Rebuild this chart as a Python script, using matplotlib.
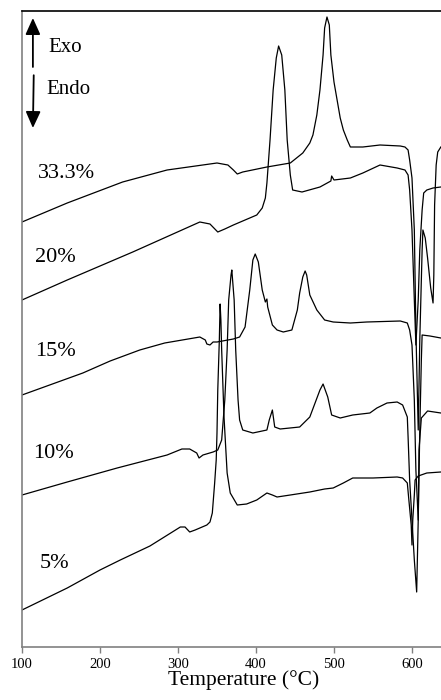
import matplotlib.pyplot as plt

plt.rcParams["font.family"] = ["Liberation Serif", "DejaVu Serif"]

# DSC traces, temperature (°C) vs heat flow (a.u., offset per curve)

t_333 = [100, 158, 229, 286, 350, 364, 371, 376, 383, 414, 444, 460, 469, 473,
         478, 482, 486, 488, 491, 494, 496, 500, 504, 508, 512, 517, 521, 537,
         559, 585, 591, 595, 597, 600, 603, 605, 608, 610, 613, 614, 617, 620,
         624, 627, 628, 629, 631, 633, 637]
h_333 = [425, 444, 465, 477, 484, 482, 477, 473, 475, 480, 484, 494, 504, 512,
         532, 557, 592, 619, 630, 622, 592, 565, 547, 529, 517, 507, 500, 500,
         502, 501, 500, 497, 487, 469, 417, 317, 217, 307, 397, 417, 409, 389,
         359, 344, 372, 442, 482, 495, 500]

t_20 = [100, 158, 242, 328, 341, 351, 360, 371, 401, 408, 412, 414, 418, 422,
        426, 429, 433, 437, 440, 444, 447, 459, 482, 496, 497, 500, 521, 537,
        559, 581, 591, 595, 597, 600, 603, 605, 608, 610, 613, 615, 619, 627,
        637]
h_20 = [347, 367, 395, 425, 423, 415, 418, 422, 432, 439, 449, 464, 507, 557,
        589, 601, 592, 557, 507, 472, 457, 455, 460, 466, 471, 467, 469, 474,
        482, 479, 477, 472, 457, 417, 347, 302, 347, 397, 437, 454, 457, 459,
        460]

t_15 = [100, 178, 213, 251, 283, 328, 335, 337, 341, 345, 350, 371, 379, 386,
        392, 396, 399, 403, 408, 412, 414, 415, 421, 427, 435, 446, 453, 456,
        460, 463, 465, 469, 478, 488, 499, 521, 542, 585, 594, 597, 600, 603,
        605, 608, 610, 612, 613, 623, 637]
h_15 = [252, 274, 286, 297, 304, 310, 307, 303, 302, 305, 305, 308, 310, 320,
        357, 387, 393, 385, 357, 345, 348, 340, 322, 317, 315, 317, 337, 354,
        370, 376, 372, 352, 337, 327, 325, 324, 325, 326, 324, 317, 302, 247,
        177, 127, 217, 287, 312, 311, 309]

t_10 = [100, 158, 222, 286, 305, 315, 324, 327, 332, 345, 351, 356, 360, 363,
        365, 368, 369, 372, 374, 377, 379, 383, 396, 414, 417, 421, 424, 431,
        456, 469, 482, 486, 492, 497, 508, 524, 546, 555, 568, 581, 588, 594,
        595, 597, 600, 603, 606, 608, 609, 612, 620, 637]
h_10 = [152, 165, 179, 192, 198, 198, 194, 189, 192, 195, 197, 207, 247, 297,
        347, 372, 377, 347, 297, 247, 227, 217, 214, 217, 227, 237, 220, 218,
        220, 230, 257, 263, 250, 232, 229, 232, 234, 239, 244, 245, 242, 230,
        210, 167, 127, 87, 55, 127, 197, 229, 236, 234]

t_5 = [100, 158, 200, 226, 264, 303, 309, 315, 322, 337, 341, 344, 347, 349,
       350, 351, 353, 354, 355, 356, 359, 363, 367, 376, 388, 401, 414, 421,
       427, 444, 469, 488, 499, 512, 524, 550, 581, 588, 594, 596, 599, 600,
       601, 603, 604, 608, 619, 637]
h_5 = [37, 59, 77, 87, 101, 120, 120, 115, 117, 122, 125, 134, 164, 187, 214,
       257, 307, 343, 327, 297, 230, 174, 154, 142, 143, 147, 154, 152, 150,
       152, 155, 158, 159, 164, 169, 169, 170, 169, 164, 147, 122, 102, 127,
       152, 167, 171, 174, 175]

labels = ["33.3%", "20%", "15%", "10%", "5%"]
label_pos = [(0.038, 0.745), (0.031, 0.613), (0.031, 0.464),
             (0.026, 0.305), (0.043, 0.132)]

fig = plt.figure(figsize=(4.41, 7.0), dpi=100)
ax = fig.add_axes([22 / 441, 53 / 700, 419 / 441, 636 / 700])

for t, h in [(t_333, h_333), (t_20, h_20), (t_15, h_15),
             (t_10, h_10), (t_5, h_5)]:
    ax.plot(t, h, color="black", lw=0.9)

for lab, (x, y) in zip(labels, label_pos):
    ax.text(x, y, lab, transform=ax.transAxes, fontsize=16,
            ha="left", va="center")

# Exo / Endo arrows
ax.annotate("", xy=(0.026, 0.989), xytext=(0.026, 0.912),
            xycoords="axes fraction",
            arrowprops=dict(arrowstyle="-|>,head_length=1.0,head_width=0.45",
                            color="black", lw=1.3, mutation_scale=10,
                            shrinkA=0, shrinkB=0))
ax.annotate("", xy=(0.026, 0.816), xytext=(0.028, 0.899),
            xycoords="axes fraction",
            arrowprops=dict(arrowstyle="-|>,head_length=1.0,head_width=0.45",
                            color="black", lw=1.3, mutation_scale=10,
                            shrinkA=0, shrinkB=0))
ax.text(0.062, 0.942, "Exo", transform=ax.transAxes, fontsize=15,
        ha="left", va="center")
ax.text(0.057, 0.876, "Endo", transform=ax.transAxes, fontsize=15,
        ha="left", va="center")

ax.set_xlim(100, 637.2)
ax.set_ylim(0, 636)
ax.set_xticks([100, 200, 300, 400, 500, 600])
ax.set_yticks([])
ax.tick_params(axis="x", direction="out", length=4, width=1.0,
               color="#808080", labelsize=10.5, pad=4)

ax.spines["right"].set_visible(False)
ax.spines["top"].set_color("black")
ax.spines["top"].set_linewidth(1.2)
ax.spines["left"].set_color("#808080")
ax.spines["left"].set_linewidth(1.2)
ax.spines["bottom"].set_color("#808080")
ax.spines["bottom"].set_linewidth(1.2)

ax.set_xlabel("Temperature (°C)", fontsize=15.5)
ax.xaxis.set_label_coords(0.53, -0.037)

fig.savefig("out.png", dpi=100)
